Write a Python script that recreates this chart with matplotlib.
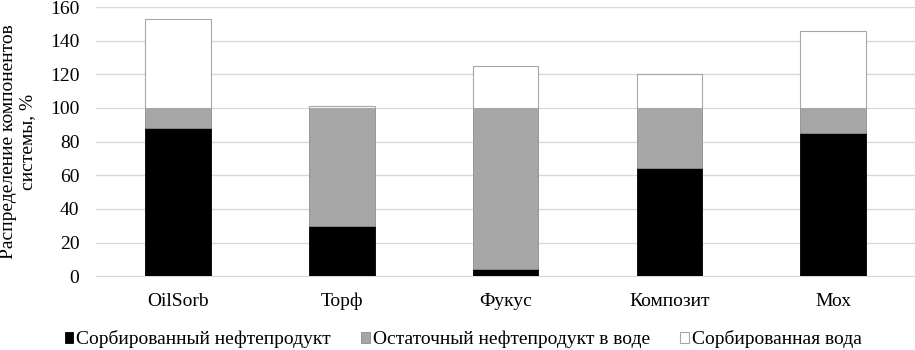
import matplotlib.pyplot as plt
import numpy as np

plt.rcParams['font.family'] = ['Liberation Serif', 'DejaVu Serif']

categories = ['OilSorb', 'Торф', 'Фукус', 'Композит', 'Мох']
sorbed_oil = [88, 30, 4, 64, 85]
residual_oil = [12, 70, 96, 36, 15]
sorbed_water = [53, 1, 25, 20, 46]
labels = ['Сорбированный нефтепродукт', 'Остаточный нефтепродукт в воде', 'Сорбированная вода']

fig = plt.figure(figsize=(9.15, 3.5), dpi=100)
ax = fig.add_axes([0.105, 0.211, 0.895, 0.769])

x = np.arange(len(categories))
w = 0.4
b1 = np.array(sorbed_oil)
b2 = b1 + np.array(residual_oil)
ax.bar(x, sorbed_oil, w, color='black', edgecolor='black', linewidth=0.6, label=labels[0], zorder=3)
ax.bar(x, residual_oil, w, bottom=b1, color='#a6a6a6', edgecolor='#8c8c8c', linewidth=0.6, label=labels[1], zorder=3)
ax.bar(x, sorbed_water, w, bottom=b2, color='white', edgecolor='#a6a6a6', linewidth=0.8, label=labels[2], zorder=3)

ax.set_xlim(-0.5, len(categories) - 0.5)
ax.set_ylim(0, 160)
ax.set_yticks(range(0, 161, 20))
ax.set_xticks(x)
ax.set_xticklabels(categories)
ax.tick_params(axis='y', length=0, labelsize=14, pad=12)
ax.tick_params(axis='x', length=0, labelsize=14, pad=12)
ax.yaxis.grid(True, color='#d9d9d9', linewidth=1, zorder=0)
for s in ['top', 'right', 'left']:
    ax.spines[s].set_visible(False)
ax.spines['bottom'].set_color('#d9d9d9')
ax.set_ylabel('Распределение компонентов\nсистемы, %', fontsize=14, labelpad=10, linespacing=1.15)

fig.legend(loc='lower center', bbox_to_anchor=(0.506, -0.045), ncol=3, frameon=False, fontsize=14,
           handlelength=0.45, handleheight=0.45, handletextpad=0.15, columnspacing=1.55)

fig.savefig('out.png', dpi=100)
